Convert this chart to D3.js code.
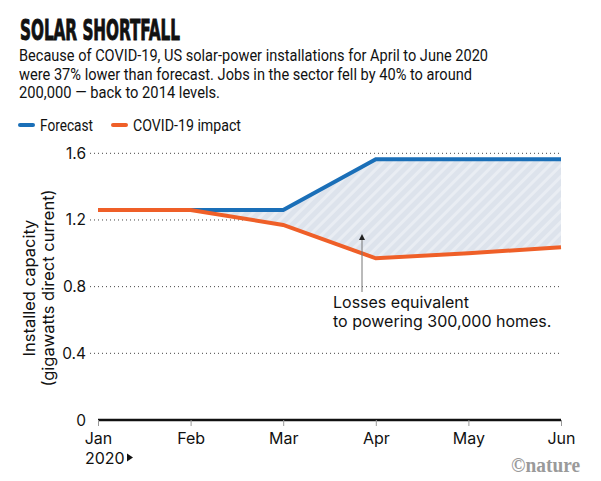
<!DOCTYPE html>
<html>
<head>
<meta charset="utf-8">
<script src="https://cdn.jsdelivr.net/npm/d3@7"></script>
<style>
  body { margin: 0; background: #fff; }
  text { font-family: "Inter", "Roboto", sans-serif; fill: #111; }
</style>
</head>
<body>
<div id="chart"></div>
<script>
// chart data
var months = ["Jan", "Feb", "Mar", "Apr", "May", "Jun"];
var forecast = [1.26, 1.26, 1.26, 1.565, 1.565, 1.565];
var covid = [1.26, 1.26, 1.17, 0.97, 1.0, 1.036];
var yTicks = [0, 0.4, 0.8, 1.2, 1.6];
var subtitle = [
  "Because of COVID-19, US solar-power installations for April to June 2020",
  "were 37% lower than forecast. Jobs in the sector fell by 40% to around",
  "200,000 \u2014 back to 2014 levels."
];
var subWidths = [469, 453, 201];

var W = 601, H = 481;
var blue = "#1a6fb8", orange = "#ef5f28";

var svg = d3.select("#chart").append("svg").attr("width", W).attr("height", H);

var x = d3.scalePoint().domain(months).range([98, 561]);
var y = d3.scaleLinear().domain([0, 1.6]).range([420, 153.3]);

// title + subtitle
svg.append("text").attr("x", 20).attr("y", 39.5)
  .attr("textLength", 160).attr("lengthAdjust", "spacingAndGlyphs")
  .style("font-family", "'Liberation Sans Narrow', 'DejaVu Sans Condensed', sans-serif")
  .style("font-weight", "bold").style("font-size", "28.5px")
  .style("stroke", "#111").style("stroke-width", 0.9)
  .text("SOLAR SHORTFALL");

svg.selectAll(".sub").data(subtitle).enter().append("text")
  .attr("class", "sub")
  .attr("x", 19).attr("y", function(d, i) { return 61 + i * 18.6; })
  .attr("textLength", function(d, i) { return subWidths[i]; })
  .attr("lengthAdjust", "spacingAndGlyphs")
  .style("font-family", "Roboto, sans-serif")
  .style("font-size", "16.5px")
  .text(function(d) { return d; });

// legend
var legend = [["Forecast", blue, 20, 53], ["COVID-19 impact", orange, 113, 108]];
var lg = svg.selectAll(".lg").data(legend).enter().append("g")
  .attr("transform", function(d) { return "translate(" + d[2] + ",125)"; });
lg.append("line").attr("x1", 0).attr("x2", 13)
  .attr("stroke", function(d) { return d[1]; })
  .attr("stroke-width", 4).attr("stroke-linecap", "round");
lg.append("text").attr("x", 20).attr("y", 6)
  .attr("textLength", function(d) { return d[3]; })
  .attr("lengthAdjust", "spacingAndGlyphs")
  .style("font-family", "Roboto, sans-serif")
  .style("font-size", "16.5px")
  .text(function(d) { return d[0]; });

// hatch pattern
var defs = svg.append("defs");
var pat = defs.append("pattern").attr("id", "hatch")
  .attr("patternUnits", "userSpaceOnUse")
  .attr("width", 8).attr("height", 8)
  .attr("patternTransform", "rotate(45)");
pat.append("rect").attr("width", 8).attr("height", 8).attr("fill", "#dde3ec");
pat.append("rect").attr("width", 3).attr("height", 8).attr("fill", "#e9edf3");

// gridlines
svg.selectAll(".grid").data(yTicks.filter(function(d) { return d > 0; })).enter()
  .append("line")
  .attr("x1", 90).attr("x2", 560)
  .attr("y1", function(d) { return y(d); }).attr("y2", function(d) { return y(d); })
  .attr("stroke", "#444").attr("stroke-width", 1)
  .attr("stroke-dasharray", "1,3");

// y axis labels
svg.selectAll(".ytl").data(yTicks).enter().append("text")
  .attr("x", 86).attr("y", function(d) { return y(d) + 5.5; })
  .attr("text-anchor", "end").style("font-size", "15.5px")
  .text(function(d) { return d === 0 ? "0" : d3.format(".1f")(d); });

// y title
var yt = svg.append("text").attr("transform", "translate(0,288) rotate(-90)")
  .attr("text-anchor", "middle").style("font-size", "16.5px");
yt.append("tspan").attr("x", 0).attr("y", 35).text("Installed capacity");
yt.append("tspan").attr("x", 0).attr("y", 54).text("(gigawatts direct current)");

// shaded loss area
var rows = months.map(function(m, i) { return { m: m, f: forecast[i], c: covid[i] }; });
var area = d3.area()
  .x(function(d) { return x(d.m); })
  .y0(function(d) { return y(d.c); })
  .y1(function(d) { return y(d.f); });
svg.append("path").datum(rows.slice(1)).attr("d", area).attr("fill", "url(#hatch)");

var line = d3.line().x(function(d) { return x(d.m); });
svg.append("path").datum(rows)
  .attr("d", line.y(function(d) { return y(d.f); }))
  .attr("fill", "none").attr("stroke", blue).attr("stroke-width", 4);
svg.append("path").datum(rows)
  .attr("d", line.y(function(d) { return y(d.c); }))
  .attr("fill", "none").attr("stroke", orange).attr("stroke-width", 4);

// x axis
var xAxis = svg.append("g").attr("transform", "translate(0,420)")
  .call(d3.axisBottom(x).tickSize(6).tickPadding(7));
xAxis.select(".domain").attr("stroke", "#111").attr("stroke-width", 2.5)
  .attr("d", "M" + x("Jan") + ",0H" + x("Jun"));
xAxis.selectAll(".tick line").attr("stroke", "#999").attr("stroke-width", 1);
xAxis.selectAll(".tick text").style("font-size", "16px")
  .style("font-family", "Inter, Roboto, sans-serif").attr("fill", "#111");

svg.append("text").attr("x", 85).attr("y", 464).style("font-size", "16px").text("2020");
svg.append("path").attr("d", "M127,453.5L133,457.5L127,461.5Z").attr("fill", "#111");

// annotation
var ax = 362;
svg.append("line").attr("x1", ax).attr("x2", ax).attr("y1", 238).attr("y2", 292)
  .attr("stroke", "#777").attr("stroke-width", 1);
svg.append("path").attr("d", "M" + (ax - 3) + ",240L" + ax + ",234L" + (ax + 3) + ",240Z")
  .attr("fill", "#222");
svg.append("text").attr("x", 333).attr("y", 308).style("font-size", "16px").text("Losses equivalent");
svg.append("text").attr("x", 333).attr("y", 327).style("font-size", "16px").text("to powering 300,000 homes.");

// credit
svg.append("text").attr("x", 511).attr("y", 472)
  .attr("textLength", 69).attr("lengthAdjust", "spacingAndGlyphs")
  .style("font-family", "'Liberation Serif', serif").style("font-weight", "bold")
  .style("font-size", "20px").style("fill", "#9a9a9a")
  .text("\u00a9nature");
</script>
</body>
</html>
